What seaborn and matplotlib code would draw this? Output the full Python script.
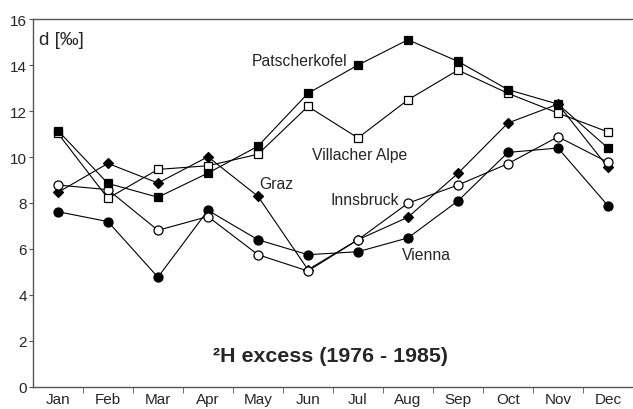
import numpy as np
import pandas as pd
import seaborn as sns
import matplotlib.pyplot as plt

# Data
months = ['Jan', 'Feb', 'Mar', 'Apr', 'May', 'Jun', 'Jul', 'Aug', 'Sep', 'Oct', 'Nov', 'Dec']
patscherkofel = [11.15, 8.85, 8.25, 9.3, 10.47, 12.77, 14.0, 15.1, 14.16, 12.93, 12.3, 10.39]
villacher_alpe = [11.03, 8.2, 9.46, 9.62, 10.12, 12.2, 10.83, 12.49, 13.78, 12.77, 11.91, 11.09]
graz = [8.46, 9.72, 8.87, 10.01, 8.29, 5.1, 6.4, 7.38, 9.29, 11.48, 12.3, 9.55]
innsbruck = [8.78, 8.58, 6.81, 7.41, 5.75, 5.04, 6.4, 7.99, 8.78, 9.71, 10.88, 9.77]
vienna = [7.62, 7.19, 4.77, 7.68, 6.4, 5.75, 5.88, 6.48, 8.09, 10.2, 10.39, 7.88]

stations = {
    'Graz': (graz, 'D', 'black', 4.8),
    'Vienna': (vienna, 'o', 'black', 6.5),
    'Innsbruck': (innsbruck, 'o', 'white', 6.5),
    'Villacher Alpe': (villacher_alpe, 's', 'white', 6.2),
    'Patscherkofel': (patscherkofel, 's', 'black', 6.2),
}

sns.set_style("ticks")
plt.rcParams['font.family'] = ['Liberation Sans', 'DejaVu Sans']

fig = plt.figure(figsize=(6.33, 4.10), dpi=100)
ax = fig.add_axes([0.052, 0.054, 0.948, 0.897])

x = np.arange(len(months))
for name, (vals, mk, fc, ms) in stations.items():
    df = pd.DataFrame({'m': x, 'd': vals})
    sns.lineplot(data=df, x='m', y='d', ax=ax, color='black', linewidth=0.8,
                 marker=mk, markersize=ms, markerfacecolor=fc,
                 markeredgecolor='black', markeredgewidth=0.9)

ax.set_xlim(-0.5, 11.5)
ax.set_ylim(0, 16)
ax.set_yticks(range(0, 17, 2))
ax.set_xticks(x)
ax.set_xticklabels(months)
ax.set_xticks(np.arange(0.5, 11, 1), minor=True)
ax.tick_params(axis='x', which='major', length=0, labelsize=11, pad=4)
ax.tick_params(axis='x', which='minor', length=4, color='#555555')
ax.tick_params(axis='y', length=3, labelsize=11, color='#555555', pad=1.5)
ax.set_xlabel('')
ax.set_ylabel('')
for s in ['left', 'bottom', 'top']:
    ax.spines[s].set_color('#555555')
    ax.spines[s].set_linewidth(1.0)
ax.spines['right'].set_visible(False)

ax.text(-0.38, 15.13, 'd [‰]', fontsize=13.5, va='center', ha='left')
ax.text(5.78, 14.2, 'Patscherkofel', fontsize=11.3, va='center', ha='right')
ax.text(5.08, 10.13, 'Villacher Alpe', fontsize=11.3, va='center', ha='left')
ax.text(4.02, 8.83, 'Graz', fontsize=11.3, va='center', ha='left')
ax.text(6.82, 8.13, 'Innsbruck', fontsize=11.3, va='center', ha='right')
ax.text(6.88, 5.74, 'Vienna', fontsize=11.3, va='center', ha='left')
ax.text(5.46, 1.35, '²H excess (1976 - 1985)', fontsize=15.4, fontweight='bold',
        va='center', ha='center')

plt.savefig('out.png', dpi=100)
